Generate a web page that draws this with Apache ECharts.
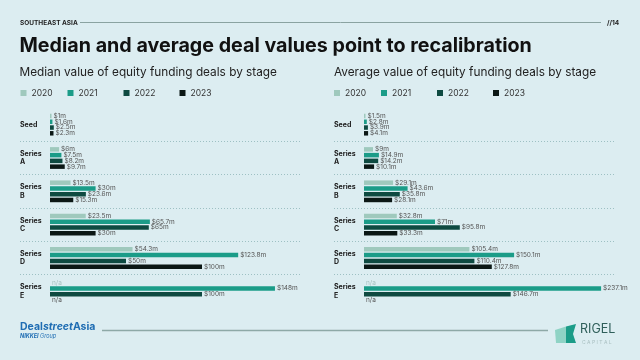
<!DOCTYPE html>
<html><head><meta charset="utf-8">
<script src="https://cdn.jsdelivr.net/npm/echarts@6/dist/echarts.min.js"></script>
<style>html,body{margin:0;padding:0;background:#dcedf1}#c{width:640px;height:360px}</style>
</head><body><div id="c"></div>
<script>
// ---- data ----
const stages = ['Seed', 'Series\nA', 'Series\nB', 'Series\nC', 'Series\nD', 'Series\nE'];
const years = ['2020', '2021', '2022', '2023'];
// Median deal value (US$ m) by stage; null = n/a
const median2020 = [1, 6, 13.5, 23.5, 54.3, null];
const median2021 = [1.6, 7.5, 30, 65.7, 123.8, 148];
const median2022 = [2.5, 8.2, 23.6, 65, 50, 100];
const median2023 = [2.3, 9.7, 15.3, 30, 100, null];
// Average deal value (US$ m) by stage; null = n/a
const average2020 = [1.5, 9, 29.1, 32.8, 105.4, null];
const average2021 = [2.8, 14.9, 43.6, 71, 150.1, 237.1];
const average2022 = [3.9, 14.2, 35.8, 95.8, 110.4, 146.7];
const average2023 = [4.1, 10.1, 28.1, 33.3, 127.8, null];

const colors = ['#9fc9bd', '#1b9c88', '#0e4a41', '#0b1715'];
const naColors = ['#a7c3c1', '#555', '#555', '#555'];

const chart = echarts.init(document.getElementById('c'), null, {renderer: 'canvas'});

function mkSeries(name, vals, idx, axisIdx) {
  return {
    type: 'bar', name: name, xAxisIndex: axisIdx, yAxisIndex: axisIdx,
    data: vals.map(v => v === null ? {value: 0, label: {formatter: 'n/a', color: naColors[idx]}} : v),
    itemStyle: {color: colors[idx]},
    barWidth: 4.5, barGap: '28%',
    label: {show: true, position: 'right', distance: 2, fontSize: 6.5, color: '#555', fontFamily: 'Inter',
      formatter: p => '$' + p.value + 'm'},
    emphasis: {disabled: true}, animation: false
  };
}

const medianSets = [median2020, median2021, median2022, median2023];
const averageSets = [average2020, average2021, average2022, average2023];

const series = [];
years.forEach((y, i) => series.push(mkSeries(y, medianSets[i], i, 0)));
years.forEach((y, i) => series.push(mkSeries(y, averageSets[i], i, 1)));

const kL = 1.52, kR = 1.0;
function yAx(gi) {
  return {
    type: 'category', gridIndex: gi, data: stages, inverse: true,
    axisLine: {show: false, onZero: false}, axisTick: {show: false},
    axisLabel: {inside: true, margin: 0, align: 'left', fontSize: 7, fontWeight: 'bold', color: '#222', lineHeight: 8.5, fontFamily: 'Inter'},
    splitLine: {show: true, showMinLine: false, showMaxLine: false, lineStyle: {type: [1, 2], color: '#9dc0c3', width: 1}}
  };
}

const legends = [];
const offs = [0, 47, 103, 159];
[20.5, 334].forEach(base => {
  years.forEach((y, i) => legends.push({
    data: [y], left: base + offs[i], top: 88.5, padding: 0, itemWidth: 6, itemHeight: 6, icon: 'rect', selectedMode: false,
    textStyle: {fontSize: 8.5, color: '#333', fontFamily: 'Inter'}
  }));
});

chart.setOption({
  backgroundColor: '#dcedf1',
  animation: false,
  title: [
    {text: 'SOUTHEAST ASIA', left: 20, top: 20, padding: 0, textStyle: {fontSize: 6.5, fontWeight: 'bold', color: '#222', fontFamily: 'Inter'}},
    {text: 'Median and average deal values point to recalibration', left: 19.5, top: 36, padding: 0, textStyle: {fontSize: 19.7, fontWeight: 'bold', color: '#111', fontFamily: 'Inter'}},
    {text: 'Median value of equity funding deals by stage', left: 19.5, top: 66, padding: 0, textStyle: {fontSize: 11.8, fontWeight: 'normal', color: '#222', fontFamily: 'Inter'}},
    {text: 'Average value of equity funding deals by stage', left: 334, top: 66, padding: 0, textStyle: {fontSize: 11.8, fontWeight: 'normal', color: '#222', fontFamily: 'Inter'}}
  ],
  legend: legends,
  grid: [
    {left: 20, top: 108, width: 281, height: 200},
    {left: 334, top: 108, width: 281, height: 200}
  ],
  xAxis: [
    {type: 'value', gridIndex: 0, min: -30 / kL, max: 251 / kL, show: false, splitLine: {show: false}},
    {type: 'value', gridIndex: 1, min: -30 / kR, max: 251 / kR, show: false, splitLine: {show: false}}
  ],
  yAxis: [yAx(0), yAx(1)],
  series: series,
  graphic: [
    {type: 'line', shape: {x1: 80, y1: 22.5, x2: 601, y2: 22.5}, style: {stroke: '#8aa3a1', lineWidth: 1}},
    {type: 'text', x: 607, y: 23, style: {text: '//14', fontSize: 6.5, fontWeight: 'bold', fill: '#222', verticalAlign: 'middle', fontFamily: 'Inter'}},
    {type: 'line', shape: {x1: 102, y1: 330.5, x2: 548, y2: 330.5}, style: {stroke: '#8ea9a7', lineWidth: 1.5}},
    {type: 'text', x: 20, y: 327, style: {
      text: '{a|Deal}{b|street}{a|Asia}', verticalAlign: 'middle',
      rich: {a: {fontSize: 10.5, fontWeight: 'bold', fill: '#1f6db3', fontFamily: 'Inter'},
             b: {fontSize: 10.5, fontWeight: 'bold', fontStyle: 'italic', fill: '#1f6db3', fontFamily: 'Inter'}}}},
    {type: 'text', x: 20, y: 336.5, style: {
      text: '{a|NIKKEI}{b| Group}', verticalAlign: 'middle',
      rich: {a: {fontSize: 5.5, fontWeight: 'bold', fontStyle: 'italic', fill: '#1f6db3', fontFamily: 'Inter'},
             b: {fontSize: 5.5, fontStyle: 'italic', fill: '#1f6db3', fontFamily: 'Inter'}}}},
    {type: 'polygon', shape: {points: [[555, 330], [566, 326.5], [566, 343], [556, 343]]}, style: {fill: '#8fd3c5'}},
    {type: 'polygon', shape: {points: [[566, 326.5], [576, 324], [573, 334], [576, 343], [566, 343]]}, style: {fill: '#1b9c88'}},
    {type: 'text', x: 580, y: 329.5, style: {text: 'RIGEL', fontSize: 12.5, fill: '#2f5f5a', verticalAlign: 'middle', fontFamily: 'Inter'}},
    {type: 'text', x: 582, y: 342, style: {text: 'C A P I T A L', fontSize: 5, fill: '#aac0c2', verticalAlign: 'middle', fontFamily: 'Inter'}}
  ]
});
</script></body></html>
